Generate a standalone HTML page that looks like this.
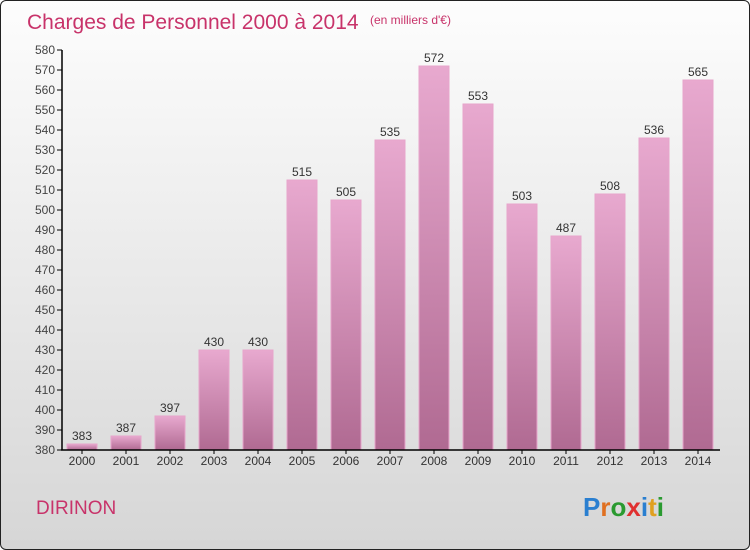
<!DOCTYPE html>
<html><head><meta charset="utf-8"><style>
body{margin:0;width:750px;height:550px;overflow:hidden;font-family:"Liberation Sans",sans-serif}
#frame{position:absolute;left:0;top:0;width:748px;height:548px;border:1px solid #222;border-radius:6px;background:linear-gradient(#fdfdfd,#d6d6d6)}
</style></head><body>
<div id="frame">
<svg width="750" height="550" style="position:absolute;left:-1px;top:-1px">
<defs><linearGradient id="bg" x1="0" y1="0" x2="0" y2="1"><stop offset="0" stop-color="#e8a9cf"/><stop offset="1" stop-color="#b06a92"/></linearGradient></defs>
<text x="27" y="29" font-size="21" fill="#c8336a">Charges de Personnel 2000 à 2014</text>
<text x="370" y="24" font-size="12" fill="#c8336a">(en milliers d'€)</text>
<text x="36" y="514" font-size="19" fill="#c8336a">DIRINON</text>
<text x="583" y="516" font-size="26" font-weight="bold"><tspan fill="#2a7fd0">P</tspan><tspan fill="#e07020">r</tspan><tspan fill="#2a9a30">o</tspan><tspan fill="#e03030">x</tspan><tspan fill="#2a7fd0">i</tspan><tspan fill="#e0a020">t</tspan><tspan fill="#2a9a30">i</tspan></text>
<g id="plot"></g>
</svg></div>
<script>
const categories=["2000","2001","2002","2003","2004","2005","2006","2007","2008","2009","2010","2011","2012","2013","2014"];
const values=[383,387,397,430,430,515,505,535,572,553,503,487,508,536,565];
const yTicks=[380,390,400,410,420,430,440,450,460,470,480,490,500,510,520,530,540,550,560,570,580];
const y=v=>450-(v-380)*2;
const x=i=>82+i*44;
const g=document.getElementById('plot');
const NS='http://www.w3.org/2000/svg';
function mk(t,a){const e=document.createElementNS(NS,t);for(const k in a)e.setAttribute(k,a[k]);g.appendChild(e);return e;}
yTicks.forEach(v=>{
 const l=mk('line',{x1:57,x2:62,y1:y(v),y2:y(v),stroke:'#000'});
 
 
 const t=mk('text',{x:55,y:y(v)+4,'font-size':12,'text-anchor':'end',fill:'#444'});
 t.textContent=v;
 
 
});
values.forEach((v,i)=>{
 const r=mk('rect',{x:x(i)-15,y:y(v),width:30,height:450-y(v),fill:'url(#bg)',stroke:'#e7a5cb','stroke-width':1});
 
 
 const t=mk('text',{x:x(i),y:y(v)-4,'font-size':12,'text-anchor':'middle',fill:'#333'});
 t.textContent=v;
 
 
 const c=mk('text',{x:x(i),y:465,'font-size':12,'text-anchor':'middle',fill:'#333'});
 c.textContent=categories[i];
 
 
 const tk=mk('line',{x1:x(i),x2:x(i),y1:450,y2:454,stroke:'#000'});
 
 
});
const ya=mk('line',{x1:62,x2:62,y1:y(580),y2:450,stroke:'#000','stroke-width':1.5});


const xa=mk('line',{x1:61,x2:720,y1:450,y2:450,stroke:'#000','stroke-width':1.5});


</script>
</body></html>
